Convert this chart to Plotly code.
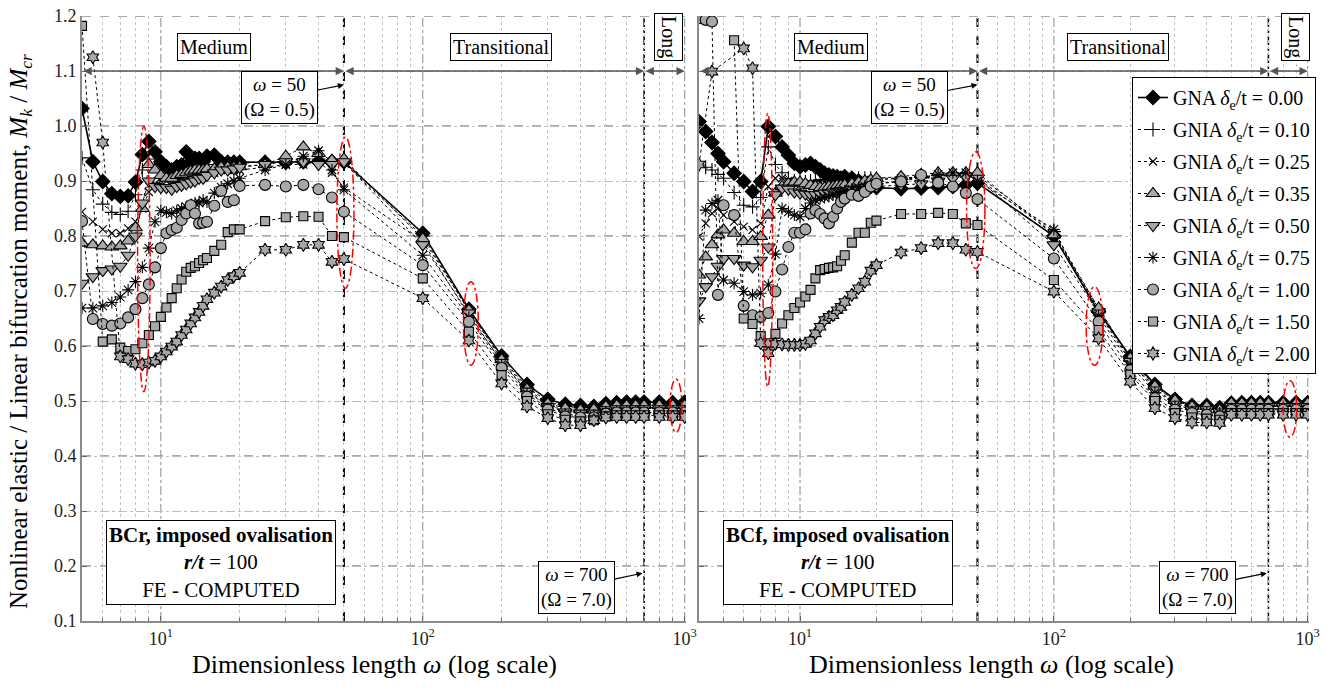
import math
import plotly.graph_objects as go

# ---------------- data ----------------
omega_BCr = [5, 5.5, 6, 6.5, 7, 7.5, 8, 8.5, 9, 9.5, 10, 10.5, 11, 11.5, 12, 12.5, 13, 13.5, 14, 14.5,
             15, 16, 17, 18, 19, 20, 25, 30, 35, 40, 45, 50,
             100, 150, 200, 250, 300, 350, 400, 450, 500, 550, 600, 650, 700, 800, 900, 1000]

BCr_d000 = [1.032, 0.935, 0.899, 0.877, 0.872, 0.873, 0.898, 0.948, 0.972, 0.953,
            0.935, 0.926, 0.920, 0.926, 0.929, 0.953, 0.935, 0.941, 0.941, 0.935,
            0.945, 0.947, 0.935, 0.934, 0.934, 0.934, 0.934, 0.934, 0.935, 0.935, 0.935, 0.935,
            0.805, 0.667, 0.582, 0.530, 0.503, 0.494, 0.492, 0.490, 0.495, 0.497,
            0.498, 0.498, 0.498, 0.498, 0.497, 0.498]
BCr_d010 = [0.942, 0.884, 0.858, 0.843, 0.839, 0.845, 0.875, 0.920, 0.940, 0.930,
            0.920, 0.910, 0.905, 0.910, 0.915, 0.920, 0.920, 0.925, 0.925, 0.925,
            0.930, 0.930, 0.930, 0.930, 0.932, 0.932, 0.935, 0.935, 0.935, 0.940, 0.935, 0.932,
            0.800, 0.663, 0.578, 0.525, 0.499, 0.490, 0.488, 0.487, 0.492, 0.494,
            0.494, 0.494, 0.494, 0.494, 0.494, 0.494]
BCr_d025 = [0.844, 0.826, 0.812, 0.805, 0.805, 0.814, 0.826, 0.850, 0.880, 0.895,
            0.900, 0.900, 0.895, 0.900, 0.905, 0.905, 0.910, 0.910, 0.910, 0.912,
            0.915, 0.915, 0.920, 0.920, 0.920, 0.920, 0.925, 0.930, 0.930, 0.935, 0.915, 0.888,
            0.790, 0.655, 0.572, 0.518, 0.492, 0.483, 0.480, 0.480, 0.486, 0.488,
            0.488, 0.488, 0.488, 0.488, 0.488, 0.488]
BCr_d035 = [0.787, 0.784, 0.782, 0.780, 0.782, 0.791, 0.815, 0.850, 0.930, 0.920,
            0.910, 0.905, 0.905, 0.910, 0.912, 0.915, 0.918, 0.920, 0.920, 0.920,
            0.922, 0.922, 0.925, 0.925, 0.925, 0.926, 0.930, 0.945, 0.962, 0.950, 0.938, 0.940,
            0.795, 0.665, 0.575, 0.522, 0.495, 0.487, 0.484, 0.485, 0.490, 0.492,
            0.492, 0.492, 0.492, 0.492, 0.492, 0.492]
BCr_d050 = [0.714, 0.726, 0.737, 0.740, 0.745, 0.765, 0.800, 0.860, 0.900, 0.890,
            0.888, 0.888, 0.885, 0.890, 0.892, 0.895, 0.898, 0.900, 0.905, 0.905,
            0.910, 0.915, 0.920, 0.920, 0.922, 0.925, 0.930, 0.935, 0.935, 0.930, 0.930, 0.935,
            0.784, 0.660, 0.570, 0.518, 0.490, 0.480, 0.478, 0.478, 0.484, 0.486,
            0.486, 0.486, 0.486, 0.486, 0.486, 0.486]
BCr_d075 = [0.669, 0.669, 0.673, 0.679, 0.689, 0.702, 0.717, 0.743, 0.778, 0.826,
            0.846, 0.843, 0.841, 0.846, 0.850, 0.853, 0.856, 0.860, 0.860, 0.865,
            0.862, 0.878, 0.889, 0.895, 0.900, 0.905, 0.920, 0.930, 0.945, 0.955, 0.920, 0.884,
            0.765, 0.652, 0.566, 0.513, 0.487, 0.476, 0.473, 0.474, 0.480, 0.482,
            0.482, 0.482, 0.482, 0.482, 0.482, 0.482]
BCr_d100 = [0.827, 0.649, 0.640, 0.637, 0.641, 0.652, 0.667, 0.687, 0.712, 0.743,
            0.778, 0.805, 0.811, 0.815, 0.829, 0.841, 0.856, 0.841, 0.823, 0.824,
            0.826, 0.855, 0.882, 0.862, 0.865, 0.891, 0.893, 0.890, 0.893, 0.885, 0.870, 0.844,
            0.747, 0.644, 0.560, 0.508, 0.484, 0.472, 0.470, 0.470, 0.477, 0.479,
            0.479, 0.479, 0.479, 0.479, 0.479, 0.479]
BCr_d150 = [1.182, None, 0.608, 0.612, 0.597, 0.591, 0.594, 0.605, 0.620, 0.636,
            0.653, 0.670, 0.687, 0.705, 0.721, 0.735, 0.742, 0.745, 0.751, 0.756,
            0.760, 0.773, 0.784, 0.807, 0.812, 0.812, 0.827, 0.834, 0.836, 0.835, 0.800, 0.798,
            0.723, 0.626, 0.547, 0.500, 0.476, 0.466, 0.463, 0.465, 0.472, 0.474,
            0.474, 0.474, 0.474, 0.474, 0.474, 0.474]
BCr_d200 = [None, 1.125, 0.970, None, 0.581, 0.576, 0.568, 0.567, 0.570, 0.573,
            0.581, 0.590, 0.599, 0.608, 0.620, 0.630, 0.641, 0.652, 0.662, 0.673,
            0.685, 0.697, 0.708, 0.720, 0.727, 0.733, 0.775, 0.775, 0.784, 0.784, 0.753, 0.758,
            0.687, 0.610, 0.532, 0.490, 0.469, 0.456, 0.456, 0.465, 0.470, 0.471,
            0.471, 0.471, 0.471, 0.471, 0.471, 0.471]

omega_BCf = [4, 4.25, 4.5, 4.75, 5, 5.5, 6, 6.5, 7, 7.5, 8, 8.5, 9, 9.5, 10, 10.5, 11, 11.5, 12, 12.5,
             13, 13.5, 14, 14.5, 15, 16, 17, 18, 19, 20, 25, 30, 35, 40, 45, 50,
             100, 150, 200, 250, 300, 350, 400, 450, 500, 550, 600, 650, 700, 800, 900, 1000]

BCf_d000 = [1.008, 0.990, 0.970, 0.950, 0.935, 0.914, 0.899, 0.881, 0.899, 0.999,
            0.981, 0.962, 0.947, 0.932, 0.926, 0.929, 0.932, 0.926, 0.920, 0.914,
            0.911, 0.909, 0.908, 0.905, 0.908, 0.905, 0.900, 0.895, 0.890, 0.888,
            0.886, 0.887, 0.888, 0.890, 0.893, 0.896,
            0.800, 0.662, 0.581, 0.530, 0.503, 0.492, 0.492, 0.488, 0.496, 0.497,
            0.497, 0.497, 0.497, 0.497, 0.497, 0.497]
BCf_d010 = [0.929, 0.925, 0.920, 0.912, 0.905, 0.879, 0.856, 0.853, 0.870, 0.962,
            0.930, 0.915, 0.905, 0.900, 0.898, 0.898, 0.900, 0.900, 0.902, 0.902,
            0.903, 0.905, 0.905, 0.905, 0.905, 0.905, 0.905, 0.905, 0.905, 0.905,
            0.905, 0.908, 0.910, 0.912, 0.912, 0.910,
            0.808, 0.668, 0.578, 0.527, 0.500, 0.490, 0.490, 0.486, 0.495, 0.495,
            0.495, 0.495, 0.495, 0.495, 0.495, 0.495]
BCf_d025 = [0.799, 0.823, 0.841, 0.850, 0.838, 0.826, 0.817, 0.811, 0.823, 0.890,
            0.905, 0.905, 0.900, 0.895, 0.893, 0.893, 0.895, 0.895, 0.897, 0.897,
            0.898, 0.898, 0.900, 0.900, 0.900, 0.900, 0.900, 0.902, 0.902, 0.902,
            0.905, 0.905, 0.908, 0.910, 0.910, 0.905,
            0.805, 0.665, 0.575, 0.523, 0.496, 0.486, 0.486, 0.482, 0.490, 0.490,
            0.490, 0.490, 0.490, 0.490, 0.490, 0.490]
BCf_d035 = [0.729, 0.762, 0.784, 0.802, 0.811, 0.805, 0.790, 0.790, 0.799, 0.838,
            0.878, 0.890, 0.895, 0.898, 0.898, 0.895, 0.892, 0.890, 0.888, 0.888,
            0.890, 0.890, 0.892, 0.892, 0.893, 0.895, 0.898, 0.900, 0.902, 0.905,
            0.908, 0.912, 0.915, 0.915, 0.915, 0.915,
            0.802, 0.669, 0.578, 0.527, 0.501, 0.490, 0.490, 0.484, 0.496, 0.496,
            0.496, 0.496, 0.496, 0.496, 0.496, 0.496]
BCf_d050 = [0.682, 0.708, 0.726, 0.745, 0.759, 0.759, 0.747, 0.744, 0.756, 0.780,
            0.875, 0.887, 0.885, 0.880, 0.878, 0.876, 0.875, 0.875, 0.876, 0.878,
            0.878, 0.880, 0.880, 0.882, 0.882, 0.885, 0.885, 0.888, 0.890, 0.890,
            0.893, 0.895, 0.900, 0.905, 0.908, 0.905,
            0.784, 0.660, 0.572, 0.520, 0.494, 0.484, 0.484, 0.480, 0.490, 0.490,
            0.490, 0.490, 0.490, 0.490, 0.490, 0.490]
BCf_d075 = [0.650, 0.847, 0.859, 0.865, 0.720, 0.714, 0.699, 0.693, 0.696, 0.711,
            0.767, 0.850, 0.844, 0.838, 0.835, 0.850, 0.860, 0.865, 0.868, 0.870,
            0.872, 0.875, 0.878, 0.880, 0.882, 0.885, 0.888, 0.890, 0.893, 0.895,
            0.900, 0.905, 0.912, 0.915, 0.915, 0.900,
            0.812, 0.655, 0.566, 0.515, 0.490, 0.481, 0.480, 0.478, 0.486, 0.486,
            0.486, 0.486, 0.486, 0.486, 0.486, 0.486]
BCf_d100 = [1.196, 1.193, 1.190, 0.693, 0.856, 0.838, 0.673, 0.656, 0.653, 0.660,
            0.699, 0.739, 0.780, 0.806, 0.806, 0.812, 0.841, 0.847, 0.840, 0.832,
            0.823, 0.835, 0.850, 0.862, 0.868, 0.875, 0.873, 0.880, 0.890, 0.895,
            0.899, 0.911, 0.897, 0.890, 0.878, 0.867,
            0.759, 0.644, 0.556, 0.505, 0.484, 0.478, 0.475, 0.472, 0.484, 0.484,
            0.484, 0.484, 0.484, 0.484, 0.484, 0.484]
BCf_d150 = [None, None, None, None, None, 1.156, 0.650, 0.640, 0.618, 0.605,
            0.622, 0.641, 0.656, 0.669, 0.679, 0.690, 0.702, 0.723, 0.738, 0.740,
            0.742, 0.743, 0.745, 0.755, 0.765, 0.788, 0.806, 0.806, 0.824, 0.828,
            0.840, 0.840, 0.842, 0.840, 0.823, 0.820,
            0.720, 0.629, 0.548, 0.500, 0.478, 0.470, 0.468, 0.466, 0.478, 0.478,
            0.478, 0.478, 0.478, 0.478, 0.478, 0.478]
BCf_d200 = [0.930, None, 1.099, None, None, None, 1.141, 1.105, 0.605, 0.587,
            0.604, 0.603, 0.602, 0.602, 0.602, 0.604, 0.610, 0.623, 0.635, 0.647,
            0.653, 0.656, 0.665, 0.671, 0.680, 0.693, 0.705, 0.717, 0.737, 0.747,
            0.770, 0.778, 0.787, 0.787, 0.775, 0.771,
            0.699, 0.614, 0.535, 0.487, 0.469, 0.461, 0.461, 0.460, 0.475, 0.475,
            0.475, 0.475, 0.475, 0.475, 0.475, 0.475]

analysis = ["GNA", "GNIA", "GNIA", "GNIA", "GNIA", "GNIA", "GNIA", "GNIA", "GNIA"]
delta_labels = ["0.00", "0.10", "0.25", "0.35", "0.50", "0.75", "1.00", "1.50", "2.00"]
y_ticks = [0.1, 0.2, 0.3, 0.4, 0.5, 0.6, 0.7, 0.8, 0.9, 1.0, 1.1, 1.2]
x_major = [10, 100, 1000]
x_major_labels = ["10<sup>1</sup>", "10<sup>2</sup>", "10<sup>3</sup>"]

# ---------------- styles ----------------
FONT = "'Liberation Serif', 'Times New Roman', Times, serif"
GRAY = "#a8a8a8"
styles = [
    dict(symbol="diamond", size=11, color="black", dash="solid", width=1.6),
    dict(symbol="cross-thin-open", size=10, color="black", dash="dot", width=1),
    dict(symbol="x-thin-open", size=8, color="black", dash="dot", width=1),
    dict(symbol="triangle-up", size=12, color=GRAY, dash="dot", width=1),
    dict(symbol="triangle-down", size=12, color=GRAY, dash="dot", width=1),
    dict(symbol="asterisk-open", size=10, color="black", dash="dot", width=1),
    dict(symbol="circle", size=11, color=GRAY, dash="dot", width=1),
    dict(symbol="square", size=9, color=GRAY, dash="dot", width=1),
    dict(symbol="hexagram", size=10, color=GRAY, dash="dot", width=1),
]

W, H = 1326, 691
def px(x): return x / W
def py(y): return 1 - y / H

fig = go.Figure()

panels = [
    (omega_BCr, [BCr_d000, BCr_d010, BCr_d025, BCr_d035, BCr_d050, BCr_d075, BCr_d100, BCr_d150, BCr_d200], "x", "y", False),
    (omega_BCf, [BCf_d000, BCf_d010, BCf_d025, BCf_d035, BCf_d050, BCf_d075, BCf_d100, BCf_d150, BCf_d200], "x2", "y2", True),
]
for xs, series, xa, ya, showleg in panels:
    for i, ys in enumerate(series):
        st = styles[i]
        fig.add_trace(go.Scatter(
            x=xs, y=ys, xaxis=xa, yaxis=ya, mode="lines+markers", connectgaps=True,
            name=f"{analysis[i]} <i>δ</i><sub>e</sub>/t = {delta_labels[i]}",
            legendgroup=str(i), showlegend=showleg, cliponaxis=True,
            line=dict(color="black", width=st["width"], dash=st["dash"]),
            marker=dict(symbol=st["symbol"], size=st["size"], color=st["color"],
                        line=dict(color="black", width=1.1)),
        ))

def minor_vals(lo):
    vals = []
    for dec in [1, 10, 100]:
        for m in range(2, 10):
            v = m * dec
            if v >= lo:
                vals.append(v)
    return vals

def xaxis_cfg(domain, lo):
    return dict(type="log", domain=domain, range=[math.log10(lo), 3.005],
                tickmode="array", tickvals=x_major, ticktext=x_major_labels,
                showgrid=False,
                minor=dict(tickmode="array", tickvals=minor_vals(lo), ticks="inside", ticklen=3,
                           tickcolor="#666", showgrid=True, gridcolor="#c4c4c4", griddash="dot",
                           gridwidth=1),
                showline=True, linecolor="#8a8a8a", linewidth=2, ticks="inside",
                ticklen=5, tickcolor="#666", tickfont=dict(family=FONT, size=18, color="#222"),
                zeroline=False, automargin=False)

def yaxis_cfg(domain, anchor, labels):
    return dict(domain=domain, range=[0.1, 1.2], anchor=anchor, tickmode="array", tickvals=y_ticks,
                ticktext=["%.1f" % v for v in y_ticks], showticklabels=labels,
                showgrid=True, gridcolor="#bdbdbd", griddash="dashdot", gridwidth=1,
                showline=True, linecolor="#8a8a8a", linewidth=2, ticks="inside", ticklen=5,
                tickcolor="#666", tickfont=dict(family=FONT, size=18, color="#222"),
                zeroline=False, automargin=False)

ydom = [py(621), py(16)]
fig.update_layout(
    width=W, height=H, margin=dict(l=0, r=0, t=0, b=0),
    paper_bgcolor="white", plot_bgcolor="white",
    font=dict(family=FONT, size=18, color="black"),
    xaxis=dict(**xaxis_cfg([px(82), px(686)], 5), anchor="y"),
    yaxis=yaxis_cfg(ydom, "x", True),
    xaxis2=dict(**xaxis_cfg([px(699), px(1309)], 4), anchor="y2"),
    yaxis2=yaxis_cfg(ydom, "x2", False),
    legend=dict(x=px(1132), y=py(77), xanchor="left", yanchor="top", bgcolor="white",
                bordercolor="black", borderwidth=1, font=dict(family=FONT, size=20),
                tracegroupgap=3, itemwidth=30),
    showlegend=True,
)

shapes = []
annotations = []
for xa, ya in [("x", "y"), ("x2", "y2")]:
    # dark dashed major horizontal grid
    for v in [0.2, 0.4, 0.6, 0.8, 1.0, 1.2]:
        shapes.append(dict(type="line", xref=xa + " domain", yref=ya, x0=0, x1=1, y0=v, y1=v,
                           line=dict(color="#555", width=1, dash="dash"), layer="below"))
    # decade grid
    for v in x_major:
        shapes.append(dict(type="line", xref=xa, yref=ya + " domain", x0=v, x1=v, y0=0, y1=1,
                           line=dict(color="#8c8c8c", width=1, dash="dashdot"), layer="below"))
    # region limits
    shapes.append(dict(type="line", xref=xa, yref=ya + " domain", x0=50, x1=50, y0=0, y1=1,
                       line=dict(color="black", width=2, dash="dash"), layer="below"))
    shapes.append(dict(type="line", xref=xa, yref=ya + " domain", x0=700, x1=700, y0=0, y1=1,
                       line=dict(color="black", width=1.5, dash="dashdot"), layer="below"))

# region arrows at y = 1.1
for xa, ya, lo in [("x", "y", 5), ("x2", "y2", 4)]:
    for a, b in [(lo, 50), (50, 700), (700, 1000)]:
        annotations.append(dict(xref=xa, yref=ya, axref=xa, ayref=ya,
                                x=math.log10(b), y=1.1, ax=math.log10(a), ay=1.1, text="",
                                showarrow=True, arrowhead=2, arrowside="end+start",
                                arrowsize=1.1, arrowwidth=1.5, arrowcolor="#555"))

# red dashed ellipses
ell_L = [(8.15, 9.1, 0.517, 1.0), (47.0, 54.6, 0.705, 0.98), (143, 163, 0.565, 0.717), (880, 975, 0.443, 0.54)]
ell_R = [(7.13, 7.8, 0.526, 1.023), (45.3, 53.5, 0.741, 0.953), (134, 156, 0.565, 0.708), (800, 905, 0.434, 0.537)]
for (xa, ya), ells in [(("x", "y"), ell_L), (("x2", "y2"), ell_R)]:
    for x0, x1, y0, y1 in ells:
        shapes.append(dict(type="circle", xref=xa, yref=ya, x0=x0, x1=x1, y0=y0, y1=y1,
                           line=dict(color="red", width=1.5, dash="dashdot"), layer="above"))

def box(text, x, y, size=19, angle=0):
    annotations.append(dict(xref="paper", yref="paper", x=px(x), y=py(y), text=text,
                            showarrow=False, textangle=angle, bgcolor="white", bordercolor="black",
                            borderwidth=1, borderpad=2, font=dict(family=FONT, size=size, color="black"),
                            xanchor="center", yanchor="middle"))

for off in [0, 617]:
    box("Medium", 214 + off, 47, size=20)
    box("Transitional", 501 + off, 47, size=20)
    box("Long", (668 if off == 0 else 1295), 37, size=20, angle=90)
    box(("<b>BCr, imposed ovalisation</b>" if off == 0 else "<b>BCf, imposed ovalisation</b>")
        + "<br><b><i>r/t</i></b> = 100<br>FE - COMPUTED", 221 + off, 562, size=21)

# omega annotations with arrows
for xa, ya, ax50, ax700 in [("x", "y", -64, -66), ("x2", "y2", -68, -69)]:
    annotations.append(dict(xref=xa, yref=ya, x=math.log10(50), y=1.075,
                            text="<i>ω</i> = 50<br>(Ω = 0.5)", showarrow=True, ax=ax50, ay=13,
                            arrowhead=2, arrowsize=1, arrowwidth=1.2, arrowcolor="black",
                            bgcolor="white", bordercolor="black", borderwidth=1, borderpad=2,
                            font=dict(family=FONT, size=19)))
    annotations.append(dict(xref=xa, yref=ya, x=math.log10(690), y=0.187,
                            text="<i>ω</i> = 700<br>(Ω = 7.0)", showarrow=True, ax=ax700, ay=14,
                            arrowhead=2, arrowsize=1, arrowwidth=1.2, arrowcolor="black",
                            bgcolor="white", bordercolor="black", borderwidth=1, borderpad=2,
                            font=dict(family=FONT, size=19)))

# axis titles
annotations.append(dict(xref="paper", yref="paper", x=px(20), y=py(332), textangle=-90,
                        text="Nonlinear elastic / Linear bifurcation moment, <i>M</i><sub><i>k</i></sub> / <i>M</i><sub><i>cr</i></sub>",
                        showarrow=False, font=dict(family=FONT, size=25), xanchor="center", yanchor="middle"))
for cx in [374, 991]:
    annotations.append(dict(xref="paper", yref="paper", x=px(cx), y=py(664),
                            text="Dimensionless length <i>ω</i> (log scale)", showarrow=False,
                            font=dict(family=FONT, size=26), xanchor="center", yanchor="middle"))

fig.update_layout(shapes=shapes, annotations=annotations)
fig.write_html("out.html")
